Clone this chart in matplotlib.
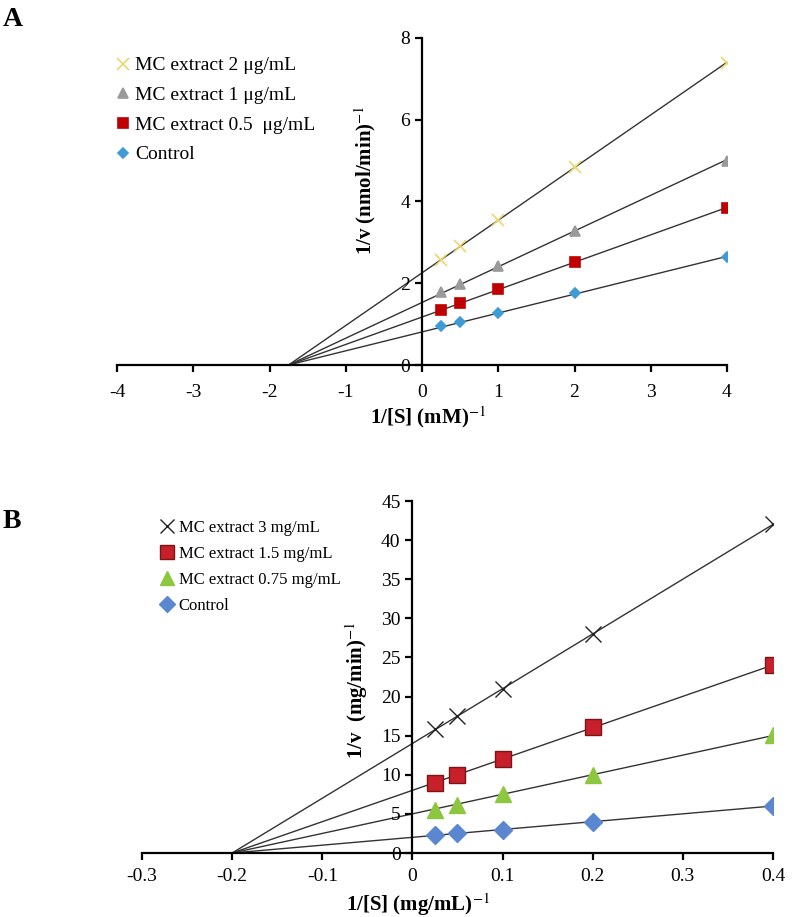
import numpy as np
import matplotlib
matplotlib.use("Agg")
from matplotlib import pyplot as plt

plt.rcParams['font.family'] = ['Liberation Serif', 'DejaVu Serif']
plt.rcParams['mathtext.fontset'] = 'stix'
plt.rcParams['axes.unicode_minus'] = False

# Panel A data
xa = [0.25, 0.5, 1, 2, 4]
a_control = [0.95, 1.05, 1.28, 1.75, 2.63]
a_05 = [1.35, 1.52, 1.87, 2.52, 3.83]
a_1 = [1.78, 1.98, 2.42, 3.28, 5.0]
a_2 = [2.58, 2.92, 3.55, 4.85, 7.38]
a_xint = -1.75

# Panel B data
xb = [0.025, 0.05, 0.1, 0.2, 0.4]
b_control = [2.3, 2.5, 3.0, 4.0, 6.0]
b_075 = [5.5, 6.2, 7.5, 10.0, 15.1]
b_15 = [9.0, 10.0, 12.0, 16.1, 24.0]
b_3 = [15.8, 17.5, 21.0, 28.0, 42.0]
b_xint = -0.2

W, H = 796, 917


def trend(ax, x, y, x0):
    # line through the common x-intercept, least squares slope
    x = np.asarray(x, float)
    y = np.asarray(y, float)
    k = np.sum((x - x0) * y) / np.sum((x - x0) ** 2)
    xs = np.array([x0, x.max()])
    ax.plot(xs, k * (xs - x0), color='#333333', lw=1.0, zorder=1)


def style(ax, xpad):
    ax.spines['left'].set_position(('data', 0))
    ax.spines['bottom'].set_position(('data', 0))
    ax.spines['top'].set_visible(False)
    ax.spines['right'].set_visible(False)
    ax.spines['left'].set_linewidth(1.6)
    ax.spines['bottom'].set_linewidth(1.6)
    ax.tick_params(direction='out', length=5, width=1.6, labelsize=14)
    ax.tick_params(axis='x', pad=xpad)


fig = plt.figure(figsize=(W/100, H/100), dpi=100)

# ---- A ----
ax1 = fig.add_axes([117/W, 552/H, 610/W, 327/H])
sa = [
    (a_2, 'x', '#EDD66E', 'MC extract 2 μg/mL', 9),
    (a_1, '^', '#9A9A9A', 'MC extract 1 μg/mL', 7),
    (a_05, 's', '#C00000', 'MC extract 0.5  μg/mL', 7),
    (a_control, 'D', '#3E9BD6', 'Control', 5),
]
for y, m, c, lab, ms in sa:
    trend(ax1, xa, y, a_xint)
    ax1.plot(xa, y, ls='none', marker=m, color=c, ms=ms, mew=1.2, label=lab, zorder=3)
ax1.set_xlim(-4, 4)
ax1.set_ylim(0, 8)
ax1.set_xticks(range(-4, 5))
ax1.set_yticks(range(0, 9, 2))
style(ax1, 9)
ax1.legend(loc='upper left', bbox_to_anchor=(106/W, 1 - 47/H), bbox_transform=fig.transFigure,
           frameon=False, fontsize=14, handlelength=0.7, handletextpad=0.3,
           labelspacing=0.62, borderpad=0)
fig.text(428/W, 1 - 417/H, '1/[S] (mM)$^{-1}$', fontsize=15, fontweight='bold',
         ha='center', va='center')
fig.text(365/W, 1 - 180/H, '1/v (nmol/min)$^{-1}$', fontsize=15, fontweight='bold',
         ha='center', va='center', rotation=90)
fig.text(0.003, 1 - 20/H, 'A', fontsize=20, fontweight='bold', va='center')

# ---- B ----
ax2 = fig.add_axes([142/W, 64/H, 631/W, 352/H])
sb = [
    (b_3, 'x', '#222222', 'MC extract 3 mg/mL', 11),
    (b_15, 's', '#C8202A', 'MC extract 1.5 mg/mL', 11),
    (b_075, '^', '#8DC63F', 'MC extract 0.75 mg/mL', 11),
    (b_control, 'D', '#5B87D0', 'Control', 9),
]
for y, m, c, lab, ms in sb:
    trend(ax2, xb, y, b_xint)
    ec = '#7A1515' if m == 's' else c
    ax2.plot(xb, y, ls='none', marker=m, color=c, mec=ec, ms=ms, mew=1.0, label=lab, zorder=3)
ax2.set_xlim(-0.3, 0.4)
ax2.set_ylim(0, 45)
ax2.set_xticks(np.round(np.arange(-0.3, 0.41, 0.1), 1))
ax2.set_xticklabels(['-0.3', '-0.2', '-0.1', '0', '0.1', '0.2', '0.3', '0.4'])
ax2.set_yticks(range(0, 46, 5))
style(ax2, 6)
ax2.legend(loc='upper left', bbox_to_anchor=(152/W, 1 - 512/H), bbox_transform=fig.transFigure,
           frameon=False, fontsize=12, handlelength=0.8, handletextpad=0.3,
           labelspacing=0.6, borderpad=0, markerscale=0.9)
fig.text(418/W, 1 - 905/H, '1/[S] (mg/mL)$^{-1}$', fontsize=15, fontweight='bold',
         ha='center', va='center')
fig.text(357/W, 1 - 690/H, '1/v  (mg/min)$^{-1}$', fontsize=15, fontweight='bold',
         ha='center', va='center', rotation=90)
fig.text(0.003, 1 - 521/H, 'B', fontsize=20, fontweight='bold', va='center')

fig.savefig('out.png', dpi=100)
